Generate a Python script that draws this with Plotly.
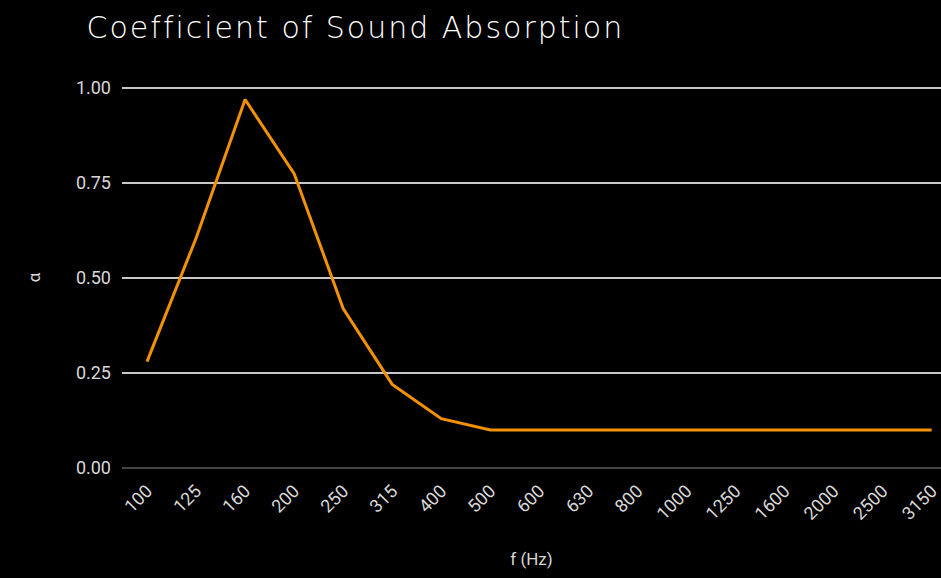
import plotly.graph_objects as go

freqs = ["100", "125", "160", "200", "250", "315", "400", "500", "600", "630",
         "800", "1000", "1250", "1600", "2000", "2500", "3150"]
alpha = [0.28, 0.605, 0.97, 0.775, 0.42, 0.22, 0.13, 0.10, 0.10, 0.10,
         0.10, 0.10, 0.10, 0.10, 0.10, 0.10, 0.10]
y_ticks = [0, 0.25, 0.5, 0.75, 1.0]
y_labels = ["0.00", "0.25", "0.50", "0.75", "1.00"]

fig = go.Figure()
fig.add_trace(go.Scatter(
    x=freqs, y=alpha, mode="lines",
    line=dict(color="#f39200", width=3),
    hoverinfo="x+y",
))

fig.update_layout(
    width=941, height=578,
    paper_bgcolor="#000000", plot_bgcolor="#000000",
    margin=dict(l=122, r=0, t=87, b=110),
    showlegend=False,
    title=dict(text="Coefficient of Sound Absorption", x=0.092, xanchor="left",
               y=0.953, yanchor="middle",
               font=dict(family="DejaVu Sans, sans-serif", size=30, color="#ffffff", weight=200)),
    xaxis=dict(
        type="category", range=[-0.51, 16.19],
        showgrid=False, zeroline=False, showline=False,
        tickangle=-45, ticks="", ticklabelstandoff=8,
        tickfont=dict(family="Roboto, sans-serif", size=18, color="#d8d8d8"),
        title=dict(text="f (Hz)", standoff=30,
                   font=dict(family="Roboto, sans-serif", size=17, color="#d8d8d8")),
    ),
    yaxis=dict(
        range=[0, 1.003], tickvals=y_ticks, ticktext=y_labels,
        showgrid=True, gridcolor="#c8c8c8", gridwidth=1.5,
        zeroline=True, zerolinecolor="#444444", zerolinewidth=1.5,
        ticks="", ticklabelstandoff=10,
        tickfont=dict(family="Roboto, sans-serif", size=18, color="#d8d8d8"),
        title=dict(text="α", standoff=30,
                   font=dict(family="Roboto, sans-serif", size=17, color="#d8d8d8")),
    ),
)

post = """
document.body.style.margin='0';
document.body.style.background='#000';
var t = document.querySelector('.gtitle');
if (t) { t.style.letterSpacing = '2px'; }
"""

fig.write_html("out.html", config={"displayModeBar": False}, post_script=post)
